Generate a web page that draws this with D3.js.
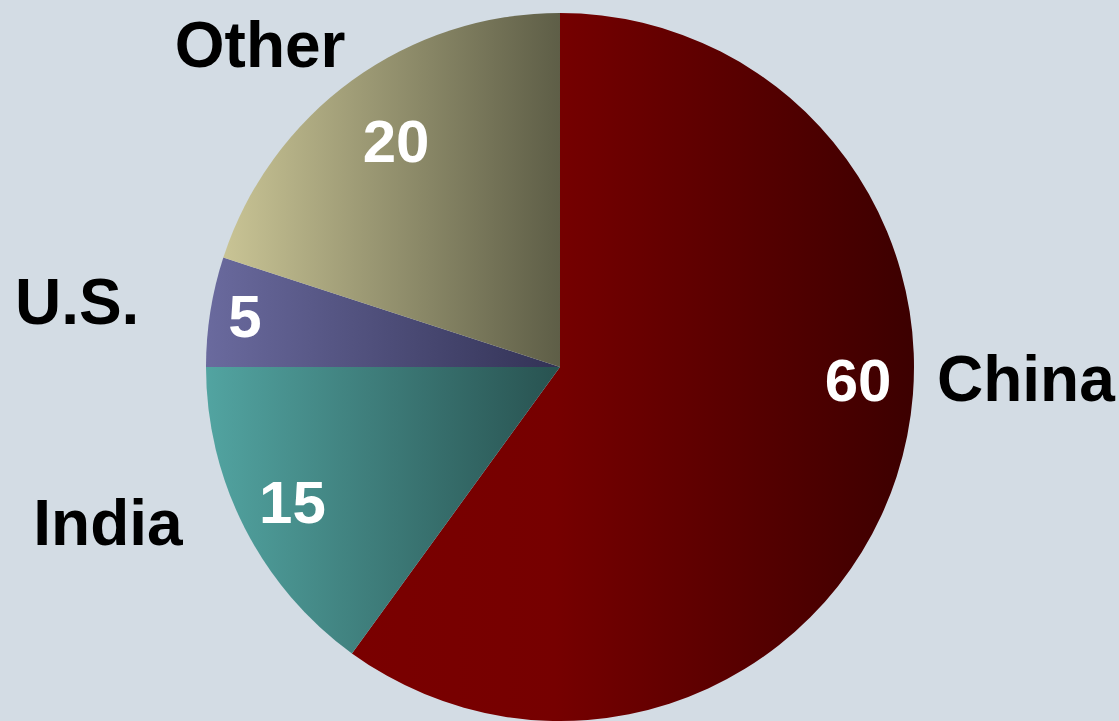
<!DOCTYPE html>
<html>
<head>
<meta charset="utf-8">
<script src="https://cdn.jsdelivr.net/npm/d3@7"></script>
<style>
  html, body { margin: 0; padding: 0; background: #d3dce4; }
  svg { display: block; }
  text { font-family: "Liberation Sans", Arial, sans-serif; font-weight: bold; }
</style>
</head>
<body>
<svg id="chart" width="1119" height="721"></svg>
<script>
// Share of the total, by country
const categories = ["China", "India", "U.S.", "Other"];
const shares = [60, 15, 5, 20];

// Horizontal fill per slice: light on the left, dark on the right
const fillStops = [
  [[0, "#7a0000"], [0.36, "#760000"], [1, "#3c0000"]],
  [[0, "#52a4a1"], [1, "#285250"]],
  [[0, "#6a6a9e"], [1, "#323255"]],
  [[0, "#c9c495"], [1, "#5e5e47"]]
];

// Label anchors relative to the pie centre, in units of the radius
const valueOffsets = [[0.842, 0.037], [-0.756, 0.384], [-0.890, -0.144], [-0.463, -0.638]];
const nameOffsets  = [[1.316, 0.034], [-1.277, 0.441], [-1.364, -0.184], [-0.847, -0.910]];

const width = 1119, height = 721;
const cx = 560, cy = 367, radius = 354;

const svg = d3.select("#chart");
const defs = svg.append("defs");

const data = categories.map((name, i) => ({ name, value: shares[i], i }));

fillStops.forEach((stops, i) => {
  const g = defs.append("linearGradient")
    .attr("id", "fill" + i)
    .attr("x1", "0%").attr("x2", "100%")
    .attr("y1", "0%").attr("y2", "0%");
  stops.forEach(([o, c]) => g.append("stop").attr("offset", o).attr("stop-color", c));
});

const pie = d3.pie()
  .value(d => d.value)
  .sort(null)
  .startAngle(0)
  .endAngle(2 * Math.PI);

const arc = d3.arc().innerRadius(0).outerRadius(radius);

const g = svg.append("g").attr("transform", `translate(${cx},${cy})`);

g.selectAll("path.slice")
  .data(pie(data))
  .join("path")
  .attr("class", "slice")
  .attr("d", arc)
  .attr("fill", d => `url(#fill${d.data.i})`);

// Values inside the slices
g.selectAll("text.value")
  .data(data)
  .join("text")
  .attr("class", "value")
  .attr("x", d => valueOffsets[d.i][0] * radius)
  .attr("y", d => valueOffsets[d.i][1] * radius)
  .attr("text-anchor", "middle")
  .attr("dominant-baseline", "central")
  .attr("font-size", 60)
  .attr("fill", "#ffffff")
  .text(d => d.value);

// Country names outside the pie
g.selectAll("text.name")
  .data(data)
  .join("text")
  .attr("class", "name")
  .attr("x", d => nameOffsets[d.i][0] * radius)
  .attr("y", d => nameOffsets[d.i][1] * radius)
  .attr("text-anchor", "middle")
  .attr("dominant-baseline", "central")
  .attr("font-size", 64)
  .attr("fill", "#000000")
  .text(d => d.name);
</script>
</body>
</html>
